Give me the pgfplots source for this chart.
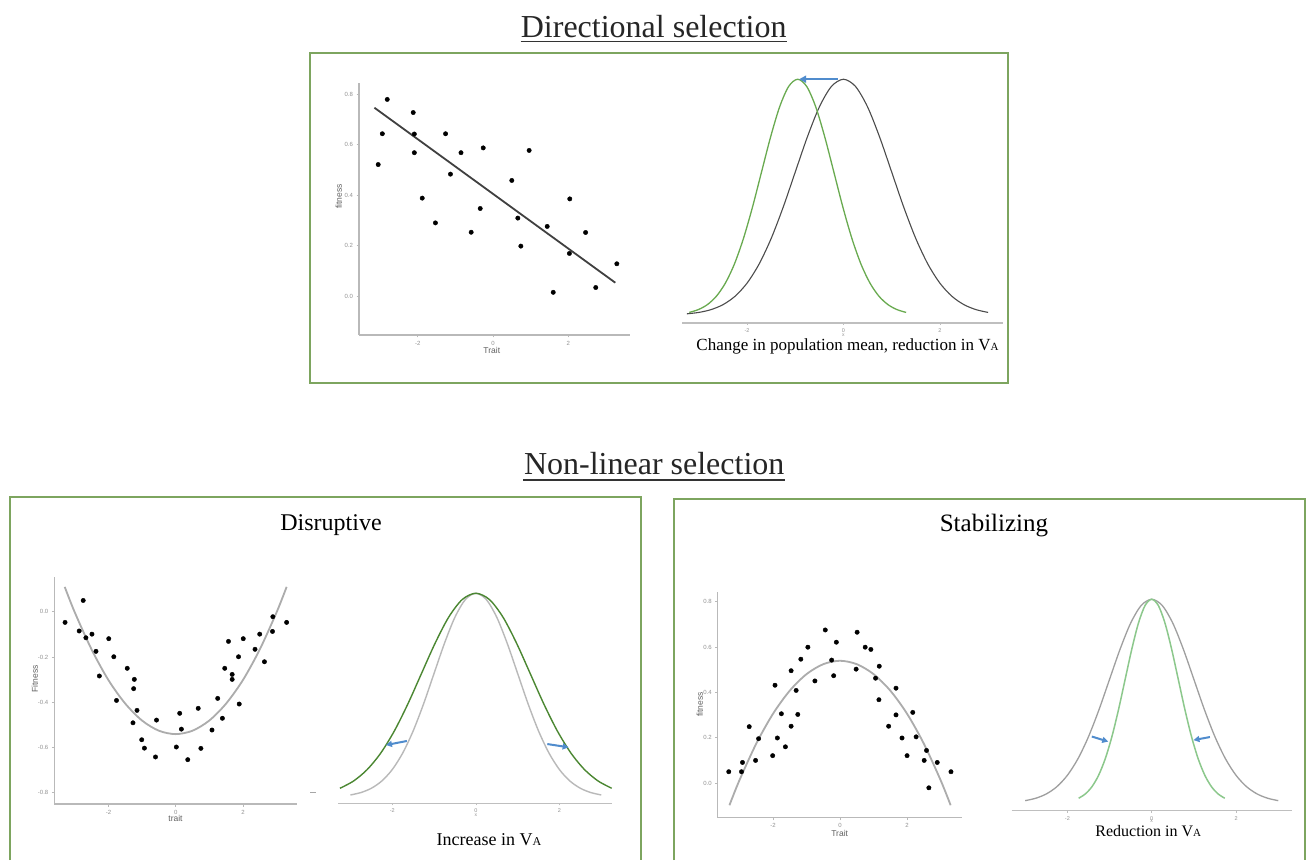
\documentclass[border=0pt]{standalone}
\usepackage{fontspec}
\setmainfont{Liberation Serif}
\setsansfont{Liberation Sans}
\usepackage{pgfplots}
\usepackage{pgfplotstable}
\pgfplotsset{compat=1.18}
\usetikzlibrary{arrows.meta}
\definecolor{boxgreen}{RGB}{125,165,95}
\definecolor{arrowblue}{RGB}{80,140,205}
\definecolor{greenA}{RGB}{105,170,80}
\definecolor{greenB}{RGB}{75,135,50}
\definecolor{greenC}{RGB}{140,200,140}
\newcommand{\VA}[1]{V{\fontsize{#1}{#1}\selectfont A}}

% ---------- scatter data ----------
\pgfplotstableread{
x y
-3.05 0.521
-2.94 0.643
-2.81 0.779
-2.12 0.727
-2.09 0.642
-2.09 0.568
-1.88 0.388
-1.53 0.290
-1.26 0.643
-1.13 0.483
-0.85 0.568
-0.58 0.253
-0.34 0.347
-0.26 0.587
0.50 0.458
0.66 0.309
0.74 0.198
0.96 0.577
1.44 0.276
1.60 0.015
2.04 0.385
2.03 0.169
2.46 0.252
2.73 0.034
3.29 0.128
}\dirpts

\pgfplotstableread{
x y
-3.29 -0.047
-2.75 0.050
-2.87 -0.085
-2.67 -0.115
-2.49 -0.099
-2.37 -0.175
-2.27 -0.284
-1.99 -0.119
-1.84 -0.199
-1.76 -0.392
-1.44 -0.250
-1.23 -0.299
-1.25 -0.340
-1.15 -0.436
-1.27 -0.491
-1.01 -0.566
-0.93 -0.603
-0.60 -0.642
-0.57 -0.479
0.02 -0.598
0.12 -0.449
0.17 -0.519
0.36 -0.654
0.67 -0.427
0.75 -0.604
1.08 -0.523
1.25 -0.383
1.39 -0.471
1.46 -0.250
1.57 -0.131
1.68 -0.277
1.68 -0.299
1.87 -0.199
1.89 -0.408
2.01 -0.119
2.36 -0.166
2.50 -0.099
2.64 -0.221
2.88 -0.087
2.89 -0.022
3.30 -0.047
}\disrpts

\pgfplotstableread{
x y
-3.3 0.110
-3.0 -0.003
-2.5 -0.167
-2.0 -0.302
-1.5 -0.406
-1.0 -0.481
-0.5 -0.526
0 -0.541
0.5 -0.526
1.0 -0.481
1.5 -0.406
2.0 -0.302
2.5 -0.167
3.0 -0.003
3.3 0.110
}\disrfit

\pgfplotstableread{
x y
-3.32 0.050
-2.94 0.050
-2.91 0.091
-2.71 0.249
-2.52 0.100
-2.43 0.196
-2.01 0.121
-1.94 0.432
-1.87 0.199
-1.75 0.306
-1.63 0.160
-1.46 0.251
-1.46 0.496
-1.31 0.409
-1.26 0.303
-1.17 0.547
-0.96 0.600
-0.75 0.451
-0.44 0.676
-0.25 0.543
-0.19 0.474
-0.11 0.622
0.48 0.503
0.51 0.666
0.75 0.600
0.92 0.590
1.06 0.463
1.16 0.368
1.17 0.516
1.45 0.251
1.67 0.419
1.67 0.301
1.85 0.199
2.00 0.121
2.17 0.312
2.27 0.204
2.51 0.100
2.58 0.144
2.65 -0.021
2.90 0.091
3.31 0.050
}\stabpts

\pgfplotstableread{
x y
-3.3 -0.098
-3.0 0.013
-2.5 0.174
-2.0 0.306
-1.5 0.408
-1.0 0.481
-0.5 0.525
0 0.540
0.5 0.525
1.0 0.481
1.5 0.408
2.0 0.306
2.5 0.174
3.0 0.013
3.3 -0.098
}\stabfit

% ---------- density curves ----------
\pgfplotstableread{
x y
-3.25 0.0020
-3.0 0.0044
-2.75 0.0091
-2.5 0.0175
-2.25 0.0317
-2.0 0.0540
-1.75 0.0863
-1.5 0.1295
-1.25 0.1826
-1.0 0.2420
-0.75 0.3011
-0.5 0.3521
-0.25 0.3867
0 0.3989
0.25 0.3867
0.5 0.3521
0.75 0.3011
1.0 0.2420
1.25 0.1826
1.5 0.1295
1.75 0.0863
2.0 0.0540
2.25 0.0317
2.5 0.0175
2.75 0.0091
3.0 0.0044
}\topblack

\pgfplotstableread{
x y
-3.2 0.0044
-3.0125 0.0091
-2.825 0.0175
-2.6375 0.0317
-2.45 0.0540
-2.2625 0.0863
-2.075 0.1295
-1.8875 0.1826
-1.7 0.2420
-1.5125 0.3011
-1.325 0.3521
-1.1375 0.3867
-0.95 0.3989
-0.7625 0.3867
-0.575 0.3521
-0.3875 0.3011
-0.2 0.2420
-0.0125 0.1826
0.175 0.1295
0.3625 0.0863
0.55 0.0540
0.7375 0.0317
0.925 0.0175
1.1125 0.0091
1.3 0.0044
}\topgreen

\pgfplotstableread{
x y
-3.0 0.0044
-2.75 0.0091
-2.5 0.0175
-2.25 0.0317
-2.0 0.0540
-1.75 0.0863
-1.5 0.1295
-1.25 0.1826
-1.0 0.2420
-0.75 0.3011
-0.5 0.3521
-0.25 0.3867
0 0.3989
0.25 0.3867
0.5 0.3521
0.75 0.3011
1.0 0.2420
1.25 0.1826
1.5 0.1295
1.75 0.0863
2.0 0.0540
2.25 0.0317
2.5 0.0175
2.75 0.0091
3.0 0.0044
}\stdnorm

\pgfplotstableread{
x y
-3.25 0.0175
-2.925 0.0317
-2.6 0.0540
-2.275 0.0863
-1.95 0.1295
-1.625 0.1826
-1.3 0.2420
-0.975 0.3011
-0.65 0.3521
-0.325 0.3867
0 0.3989
0.325 0.3867
0.65 0.3521
0.975 0.3011
1.3 0.2420
1.625 0.1826
1.95 0.1295
2.275 0.0863
2.6 0.0540
2.925 0.0317
3.25 0.0175
}\widegreen

\pgfplotstableread{
x y
-1.7325 0.0091
-1.575 0.0175
-1.4175 0.0317
-1.26 0.0540
-1.1025 0.0863
-0.945 0.1295
-0.7875 0.1826
-0.63 0.2420
-0.4725 0.3011
-0.315 0.3521
-0.1575 0.3867
0 0.3989
0.1575 0.3867
0.315 0.3521
0.4725 0.3011
0.63 0.2420
0.7875 0.1826
0.945 0.1295
1.1025 0.0863
1.26 0.0540
1.4175 0.0317
1.575 0.0175
1.7325 0.0091
}\narrowgreen

\pgfplotsset{
  scat/.style={
    scale only axis, clip=false,
    axis lines=left,
    axis line style={-, draw=gray!55, line width=1.4pt},
    tick align=outside, major tick length=2.5pt,
    tick style={draw=gray!55, line width=0.8pt},
    xtick={-2,0,2},
    ticklabel style={font=\sffamily\fontsize{6}{6}\selectfont, text=gray!85},
    /pgf/number format/assume math mode=true,
    yticklabel style={/pgf/number format/.cd, fixed, fixed zerofill, precision=1},
    label style={font=\sffamily\fontsize{8.5}{9}\selectfont, text=gray!75!black},
  },
  dens/.style={
    scale only axis, clip=false,
    axis x line*=bottom, axis y line=none,
    axis line style={-, draw=gray!50, line width=1.4pt},
    ytick=\empty, xtick={-2,0,2},
    tick align=outside, major tick length=2pt,
    tick style={draw=gray!50, line width=0.6pt},
    ticklabel style={font=\sffamily\fontsize{5.5}{6}\selectfont, text=gray!85},
    /pgf/number format/assume math mode=true,
    xlabel={x},
    xlabel style={font=\sffamily\fontsize{5}{5}\selectfont, text=gray!85, inner sep=0pt, anchor=north},
  },
  pts/.style={only marks, mark=*, mark size=2.2pt, black},
}

\begin{document}
\begin{tikzpicture}[x=1pt,y=1pt]
\path[use as bounding box, fill=white] (0,0) rectangle (1309,860);

% ---- titles ----
\node[anchor=base, inner sep=0pt, text=black!85, font=\fontsize{32}{36}\selectfont] at (653.7,822.7) {Directional selection};
\draw[black!80, line width=1.6pt] (520.7,818.3) -- (786.7,818.3);
\node[anchor=base, inner sep=0pt, text=black!85, font=\fontsize{32}{36}\selectfont] at (654.2,385) {Non-linear selection};
\draw[black!80, line width=1.6pt] (523.3,380) -- (785,380);

% ---- boxes ----
\draw[boxgreen, line width=2pt] (310,476.7) rectangle (1008.3,806.7);
\draw[boxgreen, line width=2pt] (10.3,0) -- (10.3,363) -- (640.7,363) -- (640.7,0);
\draw[boxgreen, line width=2pt] (674,0) -- (674,360.7) -- (1305,360.7) -- (1305,0);

\node[anchor=base, inner sep=0pt, font=\fontsize{24}{28}\selectfont] at (331,329.5) {Disruptive};
\node[anchor=base, inner sep=0pt, font=\fontsize{25}{28}\selectfont] at (994,328.3) {Stabilizing};

% ---- directional: scatter ----
\begin{axis}[scat, at={(359pt,525pt)}, anchor=south west, width=271pt, height=252pt,
  xmin=-3.56, xmax=3.64, ymin=-0.154, ymax=0.844,
  ytick={0,0.2,0.4,0.6,0.8},
  xlabel={Trait}, ylabel={fitness},
  xlabel style={at={(axis description cs:0.49,-0.063)}, anchor=center},
  ylabel style={at={(axis description cs:-0.074,0.55)}, anchor=center}]
\addplot[pts] table {\dirpts};
\addplot[draw=black!75, line width=1.8pt] coordinates {(-3.15,0.746) (3.25,0.053)};
\end{axis}

% ---- directional: densities ----
\begin{axis}[dens, at={(682pt,537pt)}, anchor=south west, width=321pt, height=250.3pt,
  xmin=-3.35, xmax=3.31, ymin=-0.0135, ymax=0.41,
  xlabel style={at={(axis description cs:0.503,0)}, yshift=-11pt}]
\addplot[draw=black!70, line width=1.1pt, smooth] table {\topblack};
\addplot[draw=greenA, line width=1.3pt, smooth] table {\topgreen};
\draw[arrowblue, line width=2pt, -{Triangle[length=7pt,width=7pt]}] (axis cs:-0.12,0.399) -- (axis cs:-0.92,0.399);
\end{axis}
\node[anchor=base, inner sep=0pt, font=\fontsize{17}{20}\selectfont] at (847.5,509) {Change in population mean, reduction in \VA{11}};

% ---- disruptive: scatter ----
\begin{axis}[scat, at={(54.3pt,56pt)}, anchor=south west, width=242.4pt, height=227.3pt,
  xmin=-3.61, xmax=3.6, ymin=-0.85, ymax=0.155,
  ytick={-0.8,-0.6,-0.4,-0.2,0},
  xlabel={trait}, ylabel={Fitness},
  xlabel style={at={(axis description cs:0.5,-0.062)}, anchor=center},
  ylabel style={at={(axis description cs:-0.08,0.55)}, anchor=center}]
\addplot[pts] table {\disrpts};
\addplot[draw=gray!65, line width=1.8pt, smooth] table {\disrfit};
\end{axis}
\draw[gray!70, line width=1pt] (310,68) -- (316,68);

% ---- disruptive: densities ----
\begin{axis}[dens, at={(338.3pt,56.7pt)}, anchor=south west, width=273.4pt, height=215.7pt,
  xmin=-3.29, xmax=3.25, ymin=-0.0119, ymax=0.41,
  xlabel style={at={(axis description cs:0.503,0)}, yshift=-10pt}]
\addplot[draw=gray!55, line width=1.4pt, smooth] table {\stdnorm};
\addplot[draw=greenB, line width=1.4pt, smooth] table {\widegreen};
\draw[arrowblue, line width=2pt, -{Triangle[length=6pt,width=6pt]}] (axis cs:-1.65,0.110) -- (axis cs:-2.15,0.102);
\draw[arrowblue, line width=2pt, -{Triangle[length=6pt,width=6pt]}] (axis cs:1.71,0.104) -- (axis cs:2.22,0.0976);
\end{axis}
\node[anchor=base, inner sep=0pt, font=\fontsize{18}{20}\selectfont] at (489,15) {Increase in \VA{12}};

% ---- stabilizing: scatter ----
\begin{axis}[scat, at={(717.7pt,42.3pt)}, anchor=south west, width=244pt, height=226pt,
  xmin=-3.65, xmax=3.63, ymin=-0.153, ymax=0.845,
  ytick={0,0.2,0.4,0.6,0.8},
  xlabel={Trait}, ylabel={fitness},
  xlabel style={at={(axis description cs:0.5,-0.069)}, anchor=center},
  ylabel style={at={(axis description cs:-0.073,0.5)}, anchor=center}]
\addplot[pts] table {\stabpts};
\addplot[draw=gray!65, line width=1.8pt, smooth] table {\stabfit};
\end{axis}

% ---- stabilizing: densities ----
\begin{axis}[dens, at={(1011.7pt,49.3pt)}, anchor=south west, width=280pt, height=217.1pt,
  xmin=-3.32, xmax=3.32, ymin=-0.0153, ymax=0.41,
  xlabel style={at={(axis description cs:0.5,0)}, yshift=-9pt}]
\addplot[draw=gray!75, line width=1.3pt, smooth] table {\stdnorm};
\addplot[draw=greenC, line width=1.5pt, smooth] table {\narrowgreen};
\draw[arrowblue, line width=2pt, -{Triangle[length=6pt,width=6pt]}] (axis cs:-1.42,0.130) -- (axis cs:-1.03,0.120);
\draw[arrowblue, line width=2pt, -{Triangle[length=6pt,width=6pt]}] (axis cs:1.38,0.129) -- (axis cs:0.99,0.123);
\end{axis}
\node[anchor=base, inner sep=0pt, font=\fontsize{16}{18}\selectfont] at (1148.3,23.5) {Reduction in \VA{11}};

\end{tikzpicture}
\end{document}
